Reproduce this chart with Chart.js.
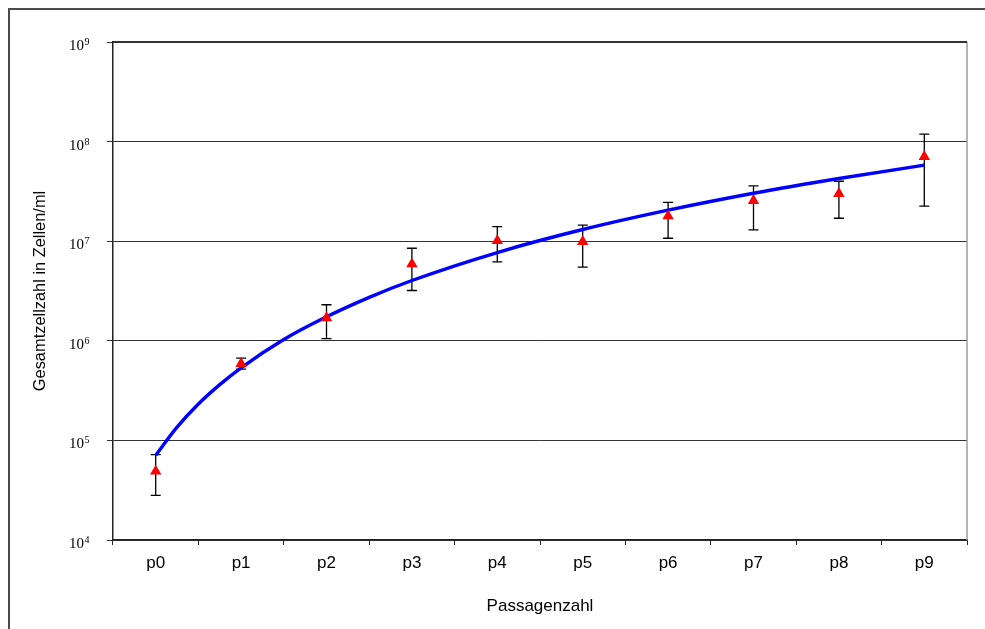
<!DOCTYPE html>
<html>
<head>
<meta charset="utf-8">
<script src="https://cdn.jsdelivr.net/npm/chart.js@4"></script>
<style>
  html, body { margin: 0; padding: 0; background: #fff; }
  #wrap { width: 985px; height: 629px; }
</style>
</head>
<body>
<div id="wrap"><canvas id="c" width="985" height="629"></canvas></div>
<script>
// ---- data ----
const categories = ['p0', 'p1', 'p2', 'p3', 'p4', 'p5', 'p6', 'p7', 'p8', 'p9'];
const meanValues = [4.9e4, 5.9e5, 1.7e6, 5.9e6, 1.01e7, 9.9e6, 1.79e7, 2.55e7, 3.0e7, 7.05e7];
const errorHigh  = [7.2e4, 6.7e5, 2.3e6, 8.5e6, 1.4e7, 1.45e7, 2.45e7, 3.6e7, 4.0e7, 1.19e8];
const errorLow   = [2.8e4, 5.2e5, 1.05e6, 3.2e6, 6.2e6, 5.5e6, 1.07e7, 1.3e7, 1.7e7, 2.25e7];
// trend curve read at positions along the passage axis (1 = p0 ... 10 = p9)
const trendPos    = [1, 1.25, 1.5, 1.75, 2, 2.5, 3, 3.5, 4, 5, 6, 7, 8, 9, 10];
const trendValues = [7.1e4, 1.36e5, 2.32e5, 3.63e5, 5.36e5, 1.03e6, 1.74e6, 2.73e6, 4.03e6, 7.7e6, 1.31e7, 2.05e7, 3.03e7, 4.26e7, 5.8e7];
const yTickValues = [1e4, 1e5, 1e6, 1e7, 1e8, 1e9];
const yTickBase = '10';
const yTickExponents = ['4', '5', '6', '7', '8', '9'];

const framePlugin = {
  id: 'frame',
  beforeDraw(chart) {
    const ctx = chart.ctx;
    ctx.save();
    ctx.fillStyle = '#fff';
    ctx.fillRect(0, 0, chart.width, chart.height);
    ctx.strokeStyle = '#4a4a4a';
    ctx.lineWidth = 2;
    ctx.beginPath();
    ctx.moveTo(9, chart.height + 5);
    ctx.lineTo(9, 9);
    ctx.lineTo(chart.width + 5, 9);
    ctx.stroke();
    ctx.restore();
  },
  afterDraw(chart) {
    const a = chart.chartArea;
    const ctx = chart.ctx;
    ctx.save();
    ctx.strokeStyle = '#9a9a9a';
    ctx.lineWidth = 1.5;
    ctx.beginPath();
    ctx.moveTo(a.right, a.top);
    ctx.lineTo(a.right, a.bottom);
    ctx.stroke();
    ctx.strokeStyle = '#333';
    ctx.lineWidth = 2;
    ctx.beginPath();
    ctx.moveTo(a.left, a.top);
    ctx.lineTo(a.right, a.top);
    ctx.stroke();
    // y tick labels with superscript exponents
    const ys = chart.scales.y;
    const rightEdge = ys.right - 24;
    ctx.fillStyle = '#000';
    ctx.textBaseline = 'alphabetic';
    ctx.textAlign = 'left';
    for (let i = 0; i < yTickValues.length; i++) {
      const y = ys.getPixelForValue(yTickValues[i]);
      ctx.font = '10px "Liberation Serif", "Times New Roman", serif';
      const ew = ctx.measureText(yTickExponents[i]).width;
      ctx.font = '15px "Liberation Serif", "Times New Roman", serif';
      const bw = ctx.measureText(yTickBase).width;
      const x0 = rightEdge - ew - bw;
      ctx.fillText(yTickBase, x0, y + 8);
      ctx.font = '10px "Liberation Serif", "Times New Roman", serif';
      ctx.fillText(yTickExponents[i], x0 + bw + 0.5, y + 3);
    }
    ctx.restore();
  }
};

const errorBarPlugin = {
  id: 'errorBars',
  beforeDatasetsDraw(chart) {
    const ctx = chart.ctx;
    const xs = chart.scales.x, ys = chart.scales.y;
    ctx.save();
    ctx.strokeStyle = '#000';
    ctx.lineWidth = 1.3;
    for (let i = 0; i < categories.length; i++) {
      const x = xs.getPixelForValue(i);
      const yh = ys.getPixelForValue(errorHigh[i]);
      const yl = ys.getPixelForValue(errorLow[i]);
      ctx.beginPath();
      ctx.moveTo(x, yh); ctx.lineTo(x, yl);
      ctx.moveTo(x - 5, yh); ctx.lineTo(x + 5, yh);
      ctx.moveTo(x - 5, yl); ctx.lineTo(x + 5, yl);
      ctx.stroke();
    }
    ctx.restore();
  }
};

new Chart(document.getElementById('c'), {
  data: {
    labels: categories,
    datasets: [
      {
        type: 'line',
        data: meanValues,
        xAxisID: 'x',
        yAxisID: 'y',
        showLine: false,
        pointStyle: 'triangle',
        pointRadius: 6.6,
        pointBackgroundColor: '#ff0000',
        pointBorderColor: '#ff0000',
        pointBorderWidth: 0,
        order: 0
      },
      {
        type: 'line',
        data: trendPos.map((p, i) => ({ x: p, y: trendValues[i] })),
        xAxisID: 'x2',
        yAxisID: 'y',
        borderColor: '#0000ff',
        borderWidth: 3.4,
        pointRadius: 0,
        cubicInterpolationMode: 'monotone',
        fill: false,
        order: 1
      }
    ]
  },
  options: {
    responsive: false,
    animation: false,
    devicePixelRatio: 1,
    layout: { padding: { left: 0, top: 42, right: 18, bottom: 0 } },
    plugins: { legend: { display: false }, tooltip: { enabled: false } },
    scales: {
      x: {
        type: 'category',
        offset: true,
        grid: { offset: true, drawOnChartArea: false, drawTicks: true, tickLength: 5, color: '#222', lineWidth: 1 },
        border: { display: true, color: '#222', width: 1.5 },
        ticks: { color: '#000', padding: 8, font: { family: 'Liberation Sans, Arial, sans-serif', size: 17 } },
        title: { display: true, text: 'Passagenzahl', color: '#000', padding: { top: 0, bottom: 12 }, font: { family: 'Liberation Sans, Arial, sans-serif', size: 17 } },
        afterFit(scale) { scale.height = 89; }
      },
      x2: {
        type: 'linear',
        display: false,
        min: 0.5,
        max: 10.5
      },
      y: {
        type: 'logarithmic',
        min: 1e4,
        max: 1e9,
        afterBuildTicks(scale) { scale.ticks = yTickValues.map(v => ({ value: v, major: true })); },
        grid: { color: '#333', lineWidth: 1, tickLength: 6, drawTicks: true },
        border: { display: true, color: '#222', width: 1.5 },
        ticks: {
          color: '#000',
          padding: 19,
          autoSkip: false,
          font: { family: 'Liberation Serif, Times New Roman, serif', size: 15 },
          callback: () => ''
        },
        title: { display: true, text: 'Gesamtzellzahl in Zellen/ml', color: '#000', padding: { top: 31, bottom: 0 }, font: { family: 'Liberation Sans, Arial, sans-serif', size: 16.4 } },
        afterFit(scale) { scale.width = 113; }
      }
    }
  },
  plugins: [framePlugin, errorBarPlugin]
});
</script>
</body>
</html>
